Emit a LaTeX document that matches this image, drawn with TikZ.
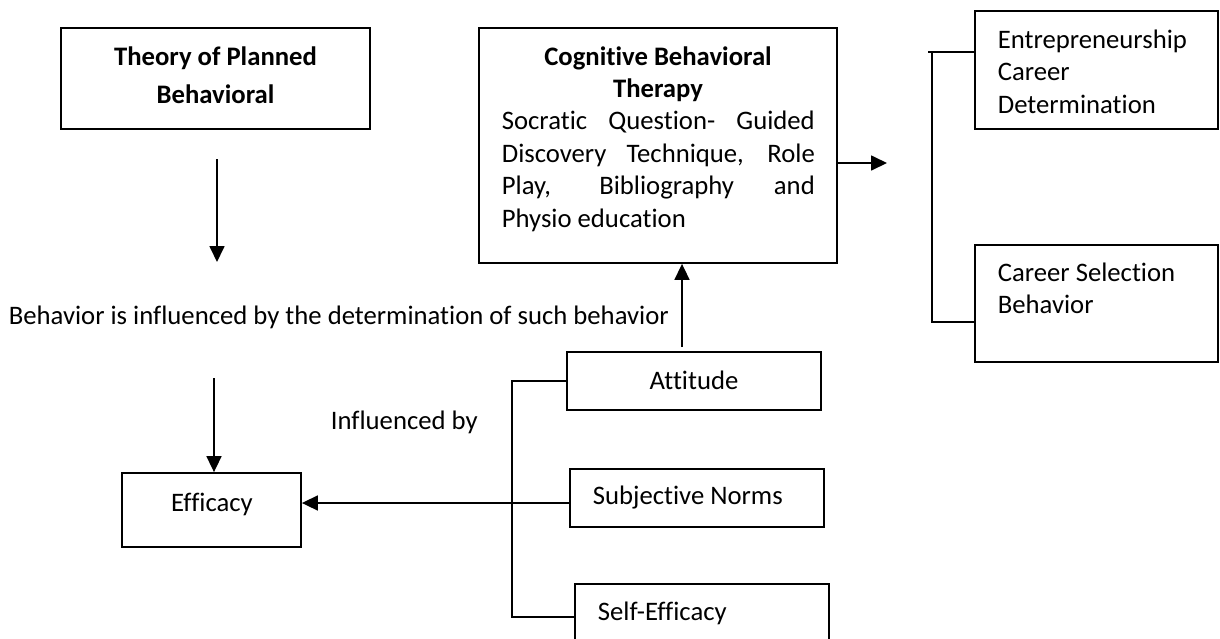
\documentclass[tikz,border=0pt]{standalone}
\usepackage{fontspec}
\setmainfont{Carlito}[Ligatures=NoCommon]
\usetikzlibrary{arrows.meta}
\begin{document}
\begin{tikzpicture}[x=0.5pt,y=-0.5pt,line width=0.85pt,
  box/.style={draw,line width=0.9pt,inner sep=0pt,minimum width=#1},
  txt/.style={inner sep=0pt,font=\fontsize{13.35}{16.3}\selectfont},
  btxt/.style={inner sep=0pt,font=\bfseries\fontsize{13.35}{16.3}\selectfont},
  arr/.style={-{Triangle[length=8pt,width=7.5pt]}}]
\clip (0,0) rectangle (1220,638);
\fill[white] (0,0) rectangle (1220,638);
% boxes
\node[box=154.5pt,minimum height=50.5pt] (theory) at (215.5,78.5) {};
\node[box=179pt,minimum height=117.5pt] (cbt) at (658,145.5) {};
\node[box=121.5pt,minimum height=59pt] (ent) at (1096.5,70) {};
\node[box=121.5pt,minimum height=58.5pt] (csb) at (1096.5,303.5) {};
\node[box=89.5pt,minimum height=37pt] (eff) at (211.5,510) {};
\node[box=127pt,minimum height=29pt] (att) at (694,381) {};
\node[box=127pt,minimum height=29pt] (subj) at (697,498) {};
\node[box=127pt,minimum height=29pt] (self) at (702,613) {};
% texts
\node[btxt,anchor=base] (t1) at (215.5,65) {Theory of Planned};
\node[btxt,anchor=base] (t2) at (215.5,103) {Behavioral};
\node[btxt,anchor=base] (c1) at (658,65) {Cognitive Behavioral};
\node[btxt,anchor=base] (c2) at (658,97) {Therapy};
\node[txt,anchor=base west] (c3) at (501,129.5) {\makebox[156.5pt][s]{Socratic Question- Guided}};
\node[txt,anchor=base west] (c4) at (501,162) {\makebox[156.5pt][s]{Discovery Technique, Role}};
\node[txt,anchor=base west] (c5) at (501,194.5) {\makebox[156.5pt][s]{Play, Bibliography and}};
\node[txt,anchor=base west] (c6) at (501,227) {Physio education};
\node[txt,anchor=base west] (e1) at (997,48) {Entrepreneurship};
\node[txt,anchor=base west] (e2) at (997,80) {Career};
\node[txt,anchor=base west] (e3) at (997,113) {Determination};
\node[txt,anchor=base west] (s1) at (997,281) {Career Selection};
\node[txt,anchor=base west] (s2) at (997,313) {Behavior};
\node[txt,anchor=base west] (beh) at (8,324) {Behavior is influenced by the determination of such behavior};
\node[txt,anchor=base west] (inf) at (330,429) {Influenced by};
\node[txt,anchor=base] (efft) at (212,511) {Efficacy};
\node[txt,anchor=base] (attt) at (694,389) {Attitude};
\node[txt,anchor=base west] (subjt) at (592,504) {Subjective Norms};
\node[txt,anchor=base west] (selft) at (597,620) {Self-Efficacy};
% free ends
\coordinate (a1s) at (217,159);
\coordinate (a1e) at (217,262);
\coordinate (a2s) at (214,378);
\coordinate (a3s) at (682,347);
\coordinate (a4e) at (887,163);
\coordinate (rtop) at (932,52);
\coordinate (rtl) at (928,52);
\coordinate (rbot) at (932,322);
\coordinate (ltop) at (512,381);
\coordinate (lmid) at (512,503);
\coordinate (lbot) at (512,617);
% connectors
\draw[arr] (a1s) -- (a1e);
\draw[arr] (a2s) -- (eff.north -| a2s);
\draw[arr] (a3s) -- (cbt.south -| a3s);
\draw[arr] (cbt.east |- a4e) -- (a4e);
\draw (rtl) -- (ent.west |- rtl);
\draw (rtop) -- (rbot) -- (csb.west |- rbot);
\draw (att.west |- ltop) -- (ltop) -- (lbot) -- (self.west |- lbot);
\draw[arr] (subj.west |- lmid) -- (eff.east |- lmid);
\end{tikzpicture}
\end{document}
